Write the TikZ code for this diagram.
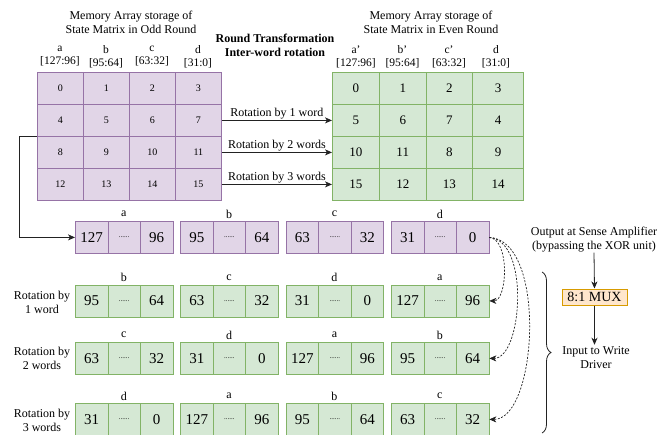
\documentclass[tikz,border=0pt]{standalone}
\usepackage{fontspec}
\setmainfont{Liberation Serif}
\usetikzlibrary{arrows.meta,decorations.pathreplacing,calc}

\definecolor{pfill}{HTML}{E1D5E7}
\definecolor{pline}{HTML}{9673A6}
\definecolor{gfill}{HTML}{D5E8D4}
\definecolor{gline}{HTML}{82B366}
\definecolor{mfill}{HTML}{FFE6CC}
\definecolor{mline}{HTML}{D79B00}
\definecolor{wire}{HTML}{222222}

\newcommand\fsz[2]{\fontsize{#1}{#2}\selectfont}
% word names and their bit bounds
\newcommand\wname[1]{\ifcase#1 a\or b\or c\or d\fi}
\newcommand\whi[1]{\ifcase#1 127\or 95\or 63\or 31\fi}
\newcommand\wlo[1]{\ifcase#1 96\or 64\or 32\or 0\fi}

\begin{document}
\begin{tikzpicture}[x=1pt,y=-1pt,
  txt/.style={inner sep=0pt, align=center, font=\fsz{12}{14}},
  hdr/.style={inner sep=0pt, align=center, font=\fsz{11.5}{13}},
  cell/.style={draw, line width=0.8pt, minimum height=32pt, inner sep=0pt, anchor=north west},
  pcell/.style={cell, draw=pline, fill=pfill, minimum width=46pt, font=\fsz{10}{12}},
  gcell/.style={cell, draw=gline, fill=gfill, font=\fsz{13}{15}},
  wp/.style={cell, draw=pline, fill=pfill, minimum width=32.5pt, font=\fsz{15}{17}},
  wg/.style={cell, draw=gline, fill=gfill, minimum width=32.5pt, font=\fsz{15}{17}},
  dotsf/.style={font=\fsz{7}{8}},
  arr/.style={draw=wire, line width=0.8pt, -{Stealth[length=7pt,width=6pt,inset=2pt]}},
  dcurve/.style={draw=wire, line width=0.7pt, dash pattern=on 2pt off 1.5pt, -{Stealth[length=7pt,width=6pt,inset=2pt]}},
  mux/.style={draw=mline, fill=mfill, line width=1pt, minimum width=65pt, minimum height=16pt, inner sep=0pt, font=\fsz{14}{16}}
]
\useasboundingbox (0,0) rectangle (669,434);

% ---- odd-round storage (purple matrix) ----
\node[txt] (ptitle) at (131,22) {Memory Array storage of\\State Matrix in Odd Round};
\foreach \c/\cx/\lab/\rng in {0/60/a/{[127:96]},1/106/b/{[95:64]},2/152/c/{[63:32]},3/198/d/{[31:0]}}{
  \node[hdr] (ph\c) at (\cx,56.5) {\lab\\{\rng}};
}
\foreach \r in {0,...,3}{
  \foreach \c in {0,...,3}{
    \pgfmathtruncatemacro\v{4*\r+\c}
    \node[pcell] (p\r\c) at ({37+46*\c},{72+32*\r}) {\v};
  }
}

% ---- even-round storage (green matrix) ----
\node[txt] (gtitle) at (431,22) {Memory Array storage of\\State Matrix in Even Round};
\foreach \c/\cx/\lab/\rng in {0/356/a'/{[127:96]},1/402.5/b'/{[95:64]},2/449/c'/{[63:32]},3/496/d/{[31:0]}}{
  \node[hdr] (gh\c) at (\cx,56.5) {\lab\\{\rng}};
}
\foreach \c/\gx/\gw in {0/332/47,1/379/46.7,2/425.7/46.6,3/472.3/50.7}{
  \foreach \r in {0,...,3}{
    \pgfmathtruncatemacro\v{4*\r+mod(\c+\r,4)}
    \node[gcell, minimum width=\gw pt] (g\r\c) at (\gx,{72+32*\r}) {\v};
  }
}

% ---- round transformation ----
\node[txt, font=\bfseries\fsz{12}{14}] (rt) at (275,45) {Round Transformation\\Inter-word rotation};
\draw[arr] (p13.east) -- (g10.west) node[midway, above=1pt, txt] {Rotation by 1 word};
\draw[arr] (p23.east) -- (g20.west) node[midway, above=1pt, txt] {Rotation by 2 words};
\draw[arr] (p33.east) -- (g30.west) node[midway, above=1pt, txt] {Rotation by 3 words};

% ---- word registers: row 0 is the read word, rows 1-3 its rotations ----
\foreach \r/\ry in {0/221,1/284.5,2/342,3/403}{
  \foreach \k/\bx in {0/75,1/180.33,2/285.67,3/391}{
    \pgfmathtruncatemacro\w{mod(\k+\r,4)}
    \ifnum\r=0 \def\ws{wp}\else\def\ws{wg}\fi
    \node[\ws] (w\r\k a) at (\bx,\ry) {\whi{\w}};
    \node[\ws, dotsf] (w\r\k b) at ({\bx+32.5},\ry) {......};
    \node[\ws] (w\r\k c) at ({\bx+65},\ry) {\wlo{\w}};
    \node[txt] (l\r\k) at ({\bx+48.75},{\ry-7}) {\wname{\w}};
  }
}
\node[txt] (rl1) at (42,302) {Rotation by\\1 word};
\node[txt] (rl2) at (42,358.5) {Rotation by\\2 words};
\node[txt] (rl3) at (42,420) {Rotation by\\3 words};

% read path from the odd matrix into the register
\draw[arr] (p20.north west) -- ++(-18,0) |- (w00a.west);

% rotated copies
\draw[dcurve] (w03c.east) .. controls ($(w03c.east)+(21,2)$) and ($(w13c.east)+(18,0)$) .. (w13c.east);
\draw[dcurve] (w03c.east) .. controls ($(w03c.east)+(41,3)$) and ($(w23c.east)+(33,0)$) .. (w23c.east);
\draw[dcurve] (w03c.east) .. controls ($(w03c.east)+(58,3)$) and ($(w33c.east)+(48,0)$) .. (w33c.east);

% brace over the rotated words
\draw[wire, line width=0.8pt, decorate, decoration={brace, amplitude=9pt}] (542,272) -- (542,433);

% ---- multiplexer ----
\node[txt] (sa) at (594,240) {Output at Sense Amplifier\\(bypassing the XOR unit)};
\node[mux] (mx) at (594.5,297) {8:1 MUX};
\node[txt] (wd) at (596,358) {Input to Write\\Driver};
\draw[arr] (sa.south) -- (mx.north);
\draw[arr] (mx.south) -- ($(wd.north)+(-1.5,-2)$);
\end{tikzpicture}
\end{document}
